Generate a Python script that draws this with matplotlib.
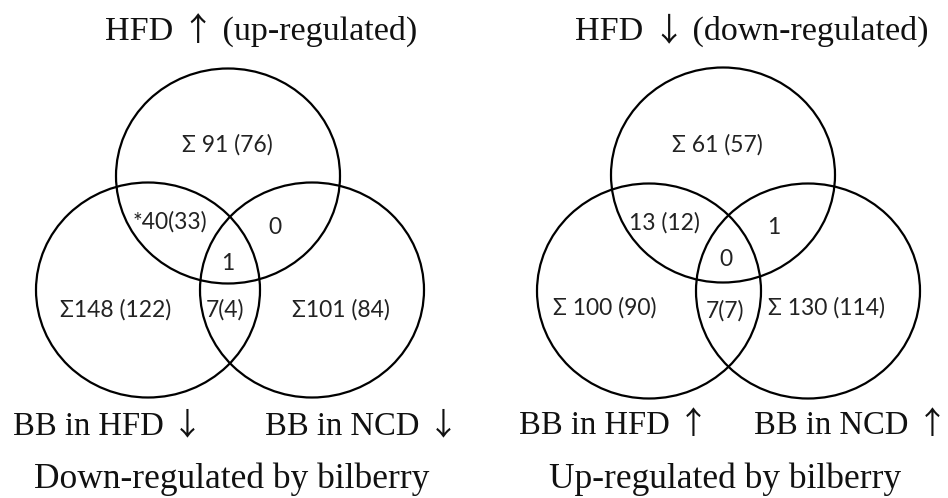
import matplotlib.pyplot as plt
from matplotlib.patches import Ellipse
from matplotlib.offsetbox import TextArea, HPacker, AnnotationBbox

# set names and region counts
titles = ['HFD ↑ (up-regulated)', 'HFD ↓ (down-regulated)']
set_left = ['BB in HFD ↓', 'BB in HFD ↑']
set_right = ['BB in NCD ↓', 'BB in NCD ↑']
captions = ['Down-regulated by bilberry', 'Up-regulated by bilberry']

# region order: top only, top&left, top&right, all three, left only, left&right, right only
counts_down = ['Σ 91 (76)', '*40(33)', '0', '1', 'Σ148 (122)', '7(4)', 'Σ101 (84)']
counts_up = ['Σ 61 (57)', '13 (12)', '1', '0', 'Σ 100 (90)', '7(7)', 'Σ 130 (114)']
counts = [counts_down, counts_up]

serif = ['Liberation Serif', 'DejaVu Serif']
arrow_font = ['Noto Sans CJK JP', 'DejaVu Sans']
sans = ['Lato', 'DejaVu Sans']
ink = '#111111'

fig = plt.figure(figsize=(9.48, 4.98), dpi=100)
ax = fig.add_axes([0, 0, 1, 1])
ax.set_xlim(0, 948)
ax.set_ylim(498, 0)
ax.axis('off')


def serif_label(x, y, s, size=23.5):
    # arrows come from another font, so the string is packed in pieces
    parts = []
    buf = ''
    for ch in s:
        if ch in '↑↓':
            if buf:
                parts.append(TextArea(buf, textprops=dict(fontsize=size, family=serif, color=ink)))
                buf = ''
            parts.append(TextArea(ch, textprops=dict(fontsize=size * 0.95, family=arrow_font, color=ink)))
        else:
            buf += ch
    if buf:
        parts.append(TextArea(buf, textprops=dict(fontsize=size, family=serif, color=ink)))
    box = HPacker(children=parts, align='baseline', pad=0, sep=0)
    ab = AnnotationBbox(box, (x, y), frameon=False, box_alignment=(0.5, 0.5), pad=0)
    ax.add_artist(ab)


# per panel: circle centres (top, left, right) and label positions
circles = [
    [(228, 176), (148, 290), (312, 290)],
    [(723, 175), (649, 291), (808, 291)],
]
label_pos = [
    [(227, 145), (170, 222), (275, 227), (228, 263), (116, 310), (225, 310), (341, 310)],
    [(717, 145), (664, 223), (774, 227), (726, 259), (605, 308), (725, 311), (827, 308)],
]
title_pos = [(261, 31), (752, 31)]
left_pos = [(108, 426), (614, 425)]
right_pos = [(362, 426), (851, 425)]
cap_pos = [(232, 479), (725, 479)]

for p in range(2):
    for cx, cy in circles[p]:
        ax.add_patch(Ellipse((cx, cy), 224, 215, fill=False, edgecolor='black', lw=1.6))
    for txt, (x, y) in zip(counts[p], label_pos[p]):
        ax.text(x, y, txt, ha='center', va='center', fontsize=16.5, family=sans, color='#222222')
    serif_label(*title_pos[p], titles[p], size=24.5)
    serif_label(*left_pos[p], set_left[p])
    serif_label(*right_pos[p], set_right[p])
    serif_label(*cap_pos[p], captions[p], size=25.5)

fig.savefig('out.png', dpi=100)
